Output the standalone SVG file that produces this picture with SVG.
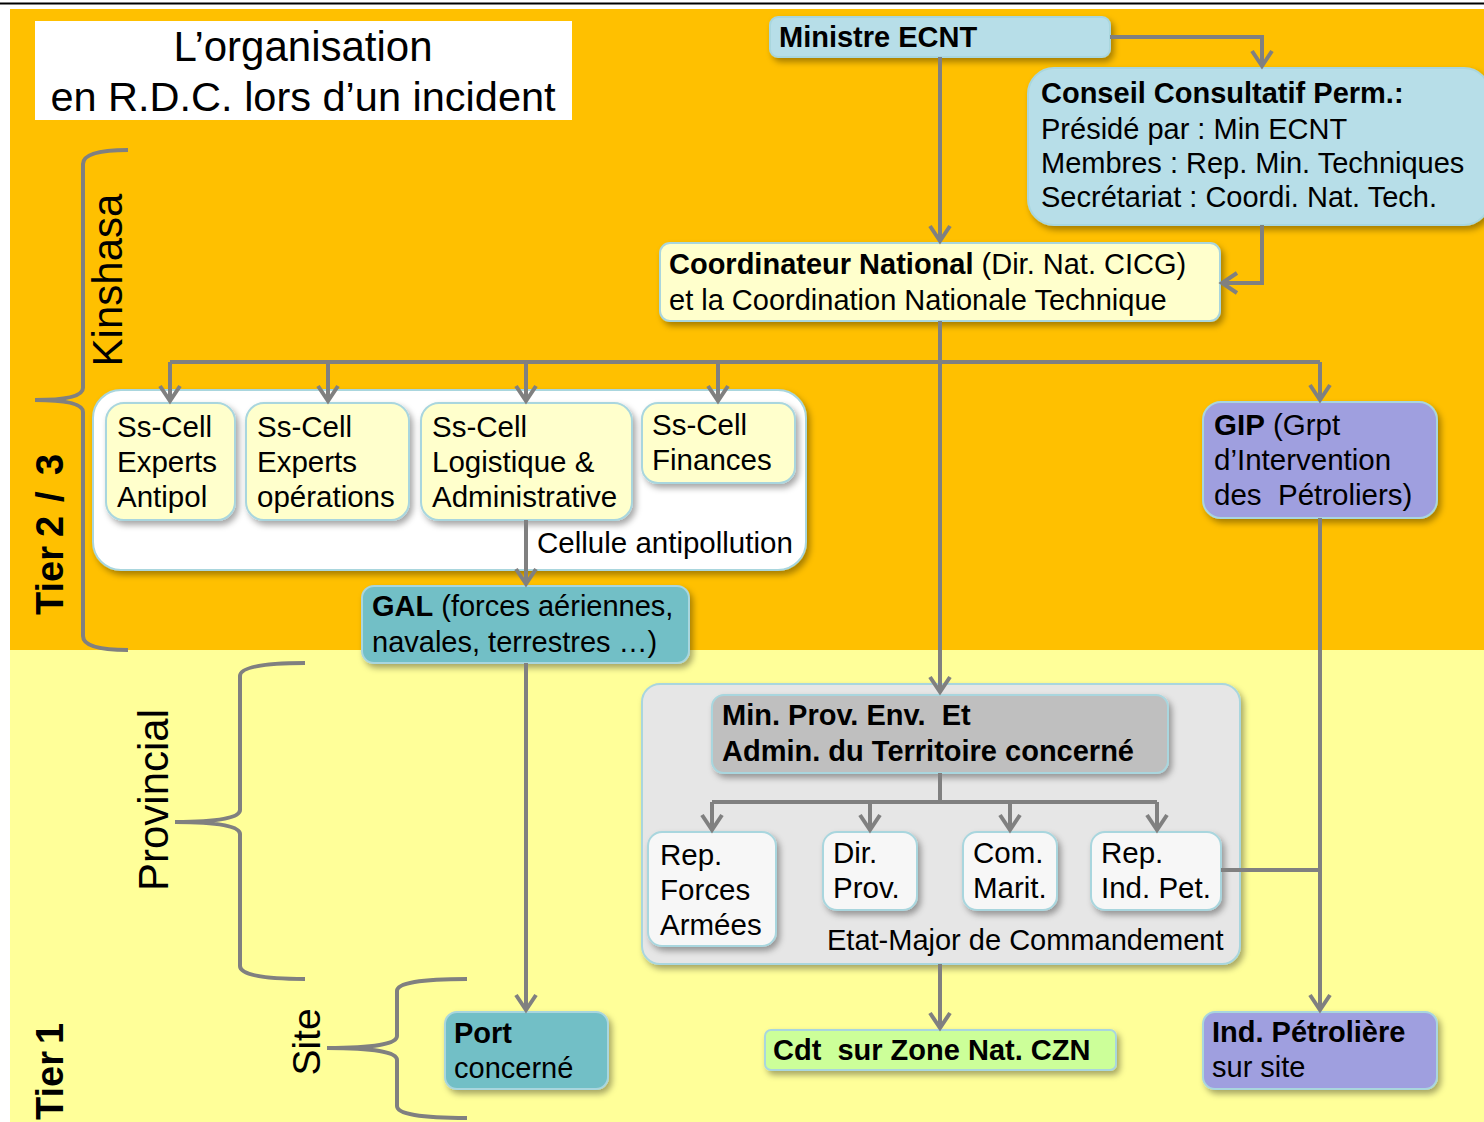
<svg xmlns="http://www.w3.org/2000/svg" width="1484" height="1122" viewBox="0 0 1484 1122">
<defs>
<style>
text{font-family:"Liberation Sans",Arial,sans-serif;font-size:29px;fill:#000}
.b{font-weight:bold}
.c{font-size:29.5px}
.box{stroke:#A9D6DE;stroke-width:2;filter:url(#sh)}
.con{fill:none;stroke:#808080;stroke-width:4}
.arr{marker-end:url(#ah)}
.brace{fill:none;stroke:#808080;stroke-width:4}
.pre{white-space:pre}
</style>
<filter id="sh" x="-10%" y="-10%" width="130%" height="140%">
<feDropShadow dx="3" dy="4" stdDeviation="3" flood-color="#000" flood-opacity="0.35"/>
</filter>
<marker id="ah" markerUnits="userSpaceOnUse" viewBox="-18 -13 22 26" markerWidth="22" markerHeight="26" refX="0" refY="0" orient="auto" overflow="visible">
<path d="M-15,-10 L0,0 L-15,10" fill="none" stroke="#808080" stroke-width="4" stroke-linejoin="miter"/>
</marker>
</defs>

<g id="background">
<rect x="0" y="0" width="1484" height="1122" fill="#fff"/>
<rect x="10" y="9" width="1474" height="641" fill="#FFC000"/>
<rect x="10" y="650" width="1474" height="472" fill="#FFFF99"/>
<line x1="0" y1="3.5" x2="1484" y2="3.5" stroke="#000" stroke-width="2"/>
</g>

<g id="labels">
<rect x="35" y="21" width="537" height="99" fill="#fff"/>
<text x="303" y="61" text-anchor="middle" style="font-size:42px">L’organisation</text>
<text x="303" y="111" text-anchor="middle" style="font-size:41.5px">en R.D.C. lors d’un incident</text>
<text transform="translate(122,280) rotate(-90)" text-anchor="middle" style="font-size:42px">Kinshasa</text>
<text class="b" transform="translate(63,615) rotate(-90)" style="font-size:38px"><tspan x="0">Tier</tspan><tspan x="78">2</tspan><tspan x="113">/</tspan><tspan x="140">3</tspan></text>
<text transform="translate(168,800) rotate(-90)" text-anchor="middle" style="font-size:42px">Provincial</text>
<text transform="translate(320,1042) rotate(-90)" text-anchor="middle" style="font-size:39px">Site</text>
<text class="b" transform="translate(63,1120) rotate(-90)" style="font-size:38px"><tspan x="0">Tier</tspan><tspan x="76">1</tspan></text>
<path class="brace" d="M128,150 Q83,150 83,164 L83,388 Q83,400 35,400 Q83,400 83,412 L83,636 Q83,650 128,650"/>
<path class="brace" d="M305,663 Q240,663 240,676 L240,810 Q240,822 175,822 Q240,822 240,834 L240,966 Q240,979 305,979"/>
<path class="brace" d="M467,979 Q397,979 397,991 L397,1036 Q397,1048 327,1048 Q397,1048 397,1060 L397,1106 Q397,1118 467,1118"/>
</g>

<g id="ministre">
<rect class="box" x="770" y="17" width="340" height="40" rx="8" fill="#B7DEE8"/>
<text class="b" x="779" y="47">Ministre ECNT</text>
</g>

<g id="conseil">
<rect class="box" x="1028" y="68" width="462" height="157" rx="26" fill="#B7DEE8"/>
<text class="b" x="1041" y="103">Conseil Consultatif Perm.:</text>
<text x="1041" y="139">Présidé par : Min ECNT</text>
<text x="1041" y="173">Membres : Rep. Min. Techniques</text>
<text x="1041" y="207">Secrétariat : Coordi. Nat. Tech.</text>
</g>

<g id="coordinateur">
<rect class="box" x="660" y="243" width="560" height="78" rx="10" fill="#FFFFCC"/>
<text x="669" y="274"><tspan class="b">Coordinateur National</tspan> (Dir. Nat. CICG)</text>
<text x="669" y="310">et la Coordination Nationale Technique</text>
</g>

<g id="cellule">
<rect class="box" x="93" y="390" width="713" height="180" rx="28" fill="#fff"/>
<text class="c" x="537" y="553">Cellule antipollution</text>
</g>

<g id="cell-antipol">
<rect class="box" x="106" y="403" width="129" height="117" rx="18" fill="#FFFFCC"/>
<text class="c" x="117" y="437">Ss-Cell</text>
<text class="c" x="117" y="472">Experts</text>
<text class="c" x="117" y="507">Antipol</text>
</g>

<g id="cell-operations">
<rect class="box" x="246" y="403" width="163" height="117" rx="18" fill="#FFFFCC"/>
<text class="c" x="257" y="437">Ss-Cell</text>
<text class="c" x="257" y="472">Experts</text>
<text class="c" x="257" y="507">opérations</text>
</g>

<g id="cell-logistique">
<rect class="box" x="421" y="403" width="211" height="117" rx="18" fill="#FFFFCC"/>
<text class="c" x="432" y="437">Ss-Cell</text>
<text class="c" x="432" y="472">Logistique &amp;</text>
<text class="c" x="432" y="507">Administrative</text>
</g>

<g id="cell-finances">
<rect class="box" x="642" y="403" width="153" height="80" rx="16" fill="#FFFFCC"/>
<text class="c" x="652" y="435">Ss-Cell</text>
<text class="c" x="652" y="470">Finances</text>
</g>

<g id="gip">
<rect class="box" x="1203" y="402" width="234" height="116" rx="18" fill="#9F9FDF"/>
<text class="c" x="1214" y="435"><tspan class="b">GIP</tspan> (Grpt</text>
<text class="c" x="1214" y="470">d’Intervention</text>
<text class="c pre" x="1214" y="505">des  Pétroliers)</text>
</g>

<g id="gal">
<rect class="box" x="362" y="586" width="327" height="77" rx="12" fill="#72BFC6"/>
<text x="372" y="616"><tspan class="b">GAL</tspan> (forces aériennes,</text>
<text x="372" y="652">navales, terrestres …)</text>
</g>

<g id="etat-major">
<rect class="box" x="642" y="684" width="598" height="280" rx="18" fill="#E6E6E6"/>
<text x="827" y="950">Etat-Major de Commandement</text>
</g>

<g id="min-prov">
<rect class="box" x="712" y="695" width="456" height="78" rx="12" fill="#BFBFBF"/>
<text class="b pre" x="722" y="725">Min. Prov. Env.  Et</text>
<text class="b" x="722" y="761">Admin. du Territoire concerné</text>
</g>

<g id="rep-forces">
<rect class="box" x="648" y="832" width="128" height="114" rx="14" fill="#F7F7F7"/>
<text class="c" x="660" y="865">Rep.</text>
<text class="c" x="660" y="900">Forces</text>
<text class="c" x="660" y="935">Armées</text>
</g>

<g id="dir-prov">
<rect class="box" x="823" y="832" width="94" height="78" rx="14" fill="#F7F7F7"/>
<text class="c" x="833" y="863">Dir.</text>
<text class="c" x="833" y="898">Prov.</text>
</g>

<g id="com-marit">
<rect class="box" x="963" y="832" width="94" height="78" rx="14" fill="#F7F7F7"/>
<text class="c" x="973" y="863">Com.</text>
<text class="c" x="973" y="898">Marit.</text>
</g>

<g id="rep-ind-pet">
<rect class="box" x="1091" y="832" width="130" height="78" rx="14" fill="#F7F7F7"/>
<text class="c" x="1101" y="863">Rep.</text>
<text class="c" x="1101" y="898">Ind. Pet.</text>
</g>

<g id="port">
<rect class="box" x="445" y="1012" width="163" height="77" rx="12" fill="#72BFC6"/>
<text class="b" x="454" y="1043">Port</text>
<text x="454" y="1078">concerné</text>
</g>

<g id="cdt">
<rect class="box" x="765" y="1030" width="351" height="40" rx="6" fill="#CCFF99"/>
<text class="b pre" x="773" y="1060">Cdt  sur Zone Nat. CZN</text>
</g>

<g id="ind-petroliere">
<rect class="box" x="1203" y="1012" width="234" height="77" rx="12" fill="#9F9FDF"/>
<text class="b" x="1212" y="1042">Ind. Pétrolière</text>
<text x="1212" y="1077">sur site</text>
</g>

<g id="connectors">
<path class="con arr" d="M940,57 L940,241"/>
<path class="con arr" d="M1110,37 L1262,37 L1262,66"/>
<path class="con arr" d="M1262,225 L1262,283 L1222,283"/>
<path class="con arr" d="M940,321 L940,692"/>
<path class="con" d="M170,362 L1320,362"/>
<path class="con arr" d="M170,362 L170,401"/>
<path class="con arr" d="M328,362 L328,401"/>
<path class="con arr" d="M526,362 L526,401"/>
<path class="con arr" d="M718,362 L718,401"/>
<path class="con arr" d="M1320,362 L1320,400"/>
<path class="con arr" d="M526,520 L526,584"/>
<path class="con arr" d="M526,663 L526,1010"/>
<path class="con arr" d="M1320,518 L1320,1010"/>
<path class="con" d="M1221,870 L1320,870"/>
<path class="con" d="M940,773 L940,802"/>
<path class="con" d="M712,802 L1157,802"/>
<path class="con arr" d="M712,802 L712,830"/>
<path class="con arr" d="M870,802 L870,830"/>
<path class="con arr" d="M1010,802 L1010,830"/>
<path class="con arr" d="M1157,802 L1157,830"/>
<path class="con arr" d="M940,964 L940,1028"/>
</g>
</svg>
